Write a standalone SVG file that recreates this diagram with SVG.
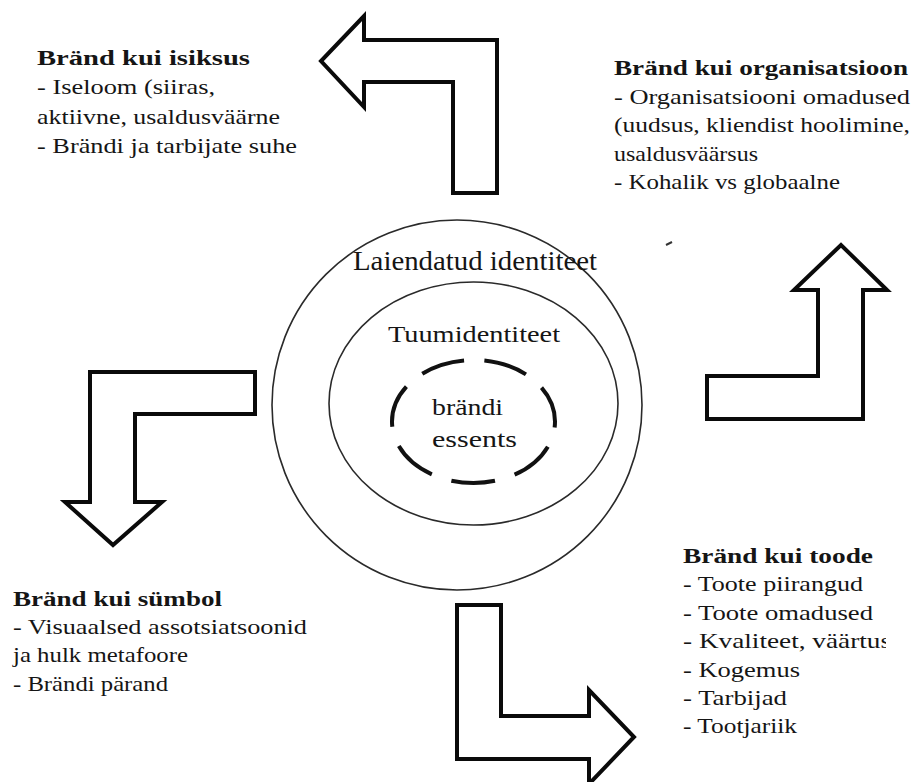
<svg xmlns="http://www.w3.org/2000/svg" width="911" height="782" viewBox="0 0 911 782">
  <style>
    .bg { fill: #ffffff; }
    text { font-family: 'Liberation Serif', 'Times New Roman', serif; fill: #151515; }
    .txt text { font-size: 22px; }
    .ttl { font-weight: bold; }
    .ring { fill: none; stroke: #2a2a2a; stroke-width: 1.6; }
    .essence { fill: none; stroke: #111111; stroke-width: 4; stroke-dasharray: 44 20.5; stroke-dashoffset: 38; }
    .arrow { fill: #ffffff; stroke: #0a0a0a; stroke-width: 4; stroke-linejoin: miter; }
  </style>
  <defs>
    <clipPath id="clip-toode">
      <rect x="670" y="530" width="216" height="230"/>
    </clipPath>
  </defs>

  <rect class="bg" x="0" y="0" width="911" height="782"/>

  <!-- central identity rings -->
  <g id="identity">
    <circle class="ring" cx="457" cy="405" r="185"/>
    <ellipse class="ring" cx="473.5" cy="403.5" rx="144.5" ry="121.5"/>
    <ellipse class="essence" cx="473.5" cy="421.5" rx="81.5" ry="61.5"/>
    <text x="353" y="270" font-size="28" textLength="244" lengthAdjust="spacingAndGlyphs">Laiendatud identiteet</text>
    <text x="388" y="342" font-size="24" textLength="172" lengthAdjust="spacingAndGlyphs">Tuumidentiteet</text>
    <text x="432" y="415" font-size="23" textLength="71" lengthAdjust="spacingAndGlyphs">brändi</text>
    <text x="432" y="447" font-size="23" textLength="85" lengthAdjust="spacingAndGlyphs">essents</text>
  </g>

  <!-- bent block arrows -->
  <g id="connectors">
    <polygon class="arrow" points="364,40 497,40 497,193 453,193 453,82 364,82 364,107 321,61 364,16"/>
    <polygon class="arrow" points="707,419 863,419 863,290 887,290 841,245 794,290 818,290 818,376 707,376"/>
    <polygon class="arrow" points="255,372 90,372 90,502 65,502 113,545 162,502 135,502 135,414 255,414"/>
    <polygon class="arrow" points="457,605 501,605 501,716 589,716 589,690 634,737 589,784 589,759 457,759"/>
    <line x1="666" y1="245" x2="672" y2="242" stroke="#333" stroke-width="2"/>
  </g>

  <g id="isiksus" class="txt">
    <text class="ttl" x="37" y="65" textLength="213" lengthAdjust="spacingAndGlyphs">Bränd kui isiksus</text>
    <text x="37" y="94" textLength="178" lengthAdjust="spacingAndGlyphs">- Iseloom (siiras,</text>
    <text x="37" y="124" textLength="243" lengthAdjust="spacingAndGlyphs">aktiivne, usaldusväärne</text>
    <text x="37" y="153" textLength="260" lengthAdjust="spacingAndGlyphs">- Brändi ja tarbijate suhe</text>
  </g>

  <g id="organisatsioon" class="txt">
    <text class="ttl" x="614" y="75" textLength="294" lengthAdjust="spacingAndGlyphs">Bränd kui organisatsioon</text>
    <text x="614" y="103.5" textLength="296" lengthAdjust="spacingAndGlyphs">- Organisatsiooni omadused</text>
    <text x="614" y="132" textLength="296" lengthAdjust="spacingAndGlyphs">(uudsus, kliendist hoolimine,</text>
    <text x="614" y="160.5" textLength="144" lengthAdjust="spacingAndGlyphs">usaldusväärsus</text>
    <text x="614" y="189" textLength="226" lengthAdjust="spacingAndGlyphs">- Kohalik vs globaalne</text>
  </g>

  <g id="symbol" class="txt">
    <text class="ttl" x="13" y="606" textLength="209" lengthAdjust="spacingAndGlyphs">Bränd kui sümbol</text>
    <text x="13" y="634" textLength="294" lengthAdjust="spacingAndGlyphs">- Visuaalsed assotsiatsoonid</text>
    <text x="13" y="662" textLength="175" lengthAdjust="spacingAndGlyphs">ja hulk metafoore</text>
    <text x="13" y="691" textLength="155" lengthAdjust="spacingAndGlyphs">- Brändi pärand</text>
  </g>

  <g id="toode" class="txt" clip-path="url(#clip-toode)">
    <text class="ttl" x="683" y="563" textLength="190" lengthAdjust="spacingAndGlyphs">Bränd kui toode</text>
    <text x="683" y="591" textLength="180" lengthAdjust="spacingAndGlyphs">- Toote piirangud</text>
    <text x="683" y="620" textLength="190" lengthAdjust="spacingAndGlyphs">- Toote omadused</text>
    <text x="683" y="648" textLength="208" lengthAdjust="spacingAndGlyphs">- Kvaliteet, väärtus</text>
    <text x="683" y="677" textLength="117" lengthAdjust="spacingAndGlyphs">- Kogemus</text>
    <text x="683" y="705" textLength="104" lengthAdjust="spacingAndGlyphs">- Tarbijad</text>
    <text x="683" y="733" textLength="114" lengthAdjust="spacingAndGlyphs">- Tootjariik</text>
  </g>
</svg>
